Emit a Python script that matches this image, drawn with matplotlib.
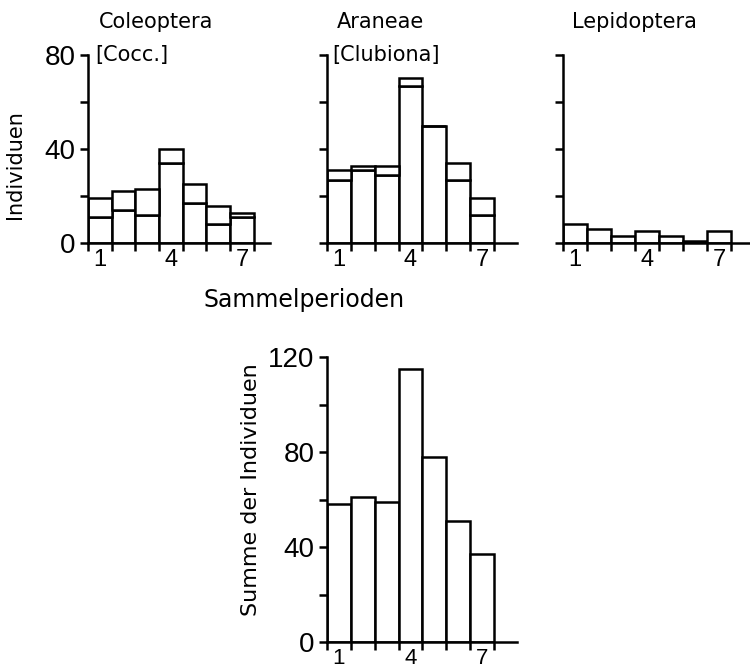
import numpy as np
import matplotlib.pyplot as plt

plt.rcParams['font.family'] = ['Liberation Sans', 'DejaVu Sans']

# Individuen je Sammelperiode (1-7)
perioden = [1, 2, 3, 4, 5, 6, 7]
coleoptera = [19, 22, 23, 40, 25, 16, 13]
cocc = [11, 14, 12, 34, 17, 8, 11]
araneae = [31, 33, 33, 70, 50, 34, 19]
clubiona = [27, 31, 29, 67, 50, 27, 12]
lepidoptera = [8, 6, 3, 5, 3, 1, 5]
summe = [58, 61, 59, 115, 78, 51, 37]

LW = 1.8
WORDS = 'DejaVu Sans'


def style_axis(ax, xmax, ymax, ystep, ylabels, xlabelsize=17):
    ax.set_xlim(0.5, xmax)
    ax.set_ylim(0, ymax)
    ax.spines['top'].set_visible(False)
    ax.spines['right'].set_visible(False)
    for s in ('left', 'bottom'):
        ax.spines[s].set_linewidth(LW)
    yt = np.arange(0, ymax + 1, ystep)
    ax.set_yticks(yt)
    ax.set_yticklabels([str(v) if v in ylabels else '' for v in yt])
    ax.tick_params(axis='y', direction='out', length=6, width=LW,
                   labelsize=20, pad=3)
    ax.set_xticks(np.arange(0.5, 8, 1), minor=True)
    ax.set_xticks([1, 4, 7])
    ax.set_xticklabels(['1', '4', '7'])
    ax.tick_params(axis='x', which='major', length=0, labelsize=xlabelsize, pad=4)
    ax.tick_params(axis='x', which='minor', direction='out', length=6, width=LW)
    ax.patch.set_alpha(0)


def bars(ax, total, lower=None):
    if lower is None:
        ax.bar(perioden, total, width=1, color='white', edgecolor='black', linewidth=LW)
        return
    upper = [t - l for t, l in zip(total, lower)]
    ax.bar(perioden, lower, width=1, color='white', edgecolor='black', linewidth=LW)
    ax.bar(perioden, upper, width=1, bottom=lower, color='white',
           edgecolor='black', linewidth=LW)


fig = plt.figure(figsize=(7.5, 6.7), dpi=100)

top_y, top_h = 0.637, 0.281
ax1 = fig.add_axes([0.1173, top_y, 0.2427, top_h])
ax2 = fig.add_axes([0.436, top_y, 0.2533, top_h])
ax3 = fig.add_axes([0.7507, top_y, 0.249, top_h])
ax4 = fig.add_axes([0.436, 0.0418, 0.2533, 0.425])

bars(ax1, coleoptera, cocc)
style_axis(ax1, 8.18, 80, 20, [0, 40, 80])

bars(ax2, araneae, clubiona)
style_axis(ax2, 8.46, 80, 20, [])

bars(ax3, lepidoptera)
style_axis(ax3, 8.26, 80, 20, [])

bars(ax4, summe)
style_axis(ax4, 8.46, 120, 20, [0, 40, 80, 120], xlabelsize=16)

# Gruppenbezeichnungen
title_kw = dict(family=WORDS, fontsize=15)
fig.text(99 / 750, 1 - 28 / 670, 'Coleoptera', **title_kw)
fig.text(95 / 750, 1 - 61 / 670, '[Cocc.]', **title_kw)
fig.text(337 / 750, 1 - 28 / 670, 'Araneae', **title_kw)
fig.text(332 / 750, 1 - 61 / 670, '[Clubiona]', **title_kw)
fig.text(572 / 750, 1 - 28 / 670, 'Lepidoptera', **title_kw)

fig.text(304 / 750, 1 - 300 / 670, 'Sammelperioden', family=WORDS, fontsize=17,
         ha='center', va='center')
fig.text(15 / 750, 1 - 165 / 670, 'Individuen', family=WORDS, fontsize=15,
         rotation=90, ha='center', va='center')
fig.text(251 / 750, 1 - 490 / 670, 'Summe der Individuen', family=WORDS, fontsize=16,
         rotation=90, ha='center', va='center')

fig.savefig('out.png', dpi=100, facecolor='white')
